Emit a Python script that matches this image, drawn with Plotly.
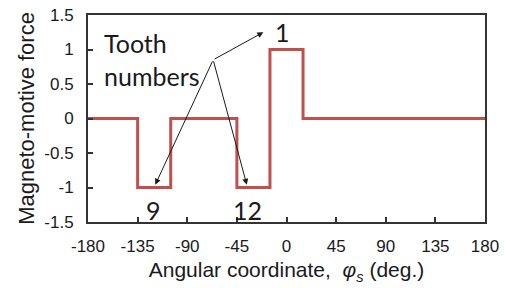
import plotly.graph_objects as go

# Step edges of the MMF waveform (deg) and the level held after each edge
angle_deg = [-180, -135, -105, -45, -15, 15, 180]
mmf = [0, -1, 0, -1, 1, 0, 0]

x_ticks = [-180, -135, -90, -45, 0, 45, 90, 135, 180]
x_tick_text = ["-180", "-135", "-90", "-45", "0", "45", "90", "135", "180"]
y_ticks = [-1.5, -1, -0.5, 0, 0.5, 1, 1.5]
y_tick_text = ["-1.5", "-1", "-0.5", "0", "0.5", "1", "1.5"]

tooth_labels = ["1", "9", "12"]
tooth_label_x = [-4, -121, -35]
tooth_label_y = [1.25, -1.33, -1.33]
arrow_tip_x = [-21, -119, -36]
arrow_tip_y = [1.25, -0.96, -0.96]
arrow_origin = (-66.5, 0.85)

fig = go.Figure()
fig.add_trace(go.Scatter(
    x=angle_deg, y=mmf, mode="lines", line_shape="hv",
    line=dict(color="#C0504D", width=3), showlegend=False, hoverinfo="skip"))

label_font = dict(family="Lato, Open Sans, sans-serif", size=25, color="#1a1a1a")

fig.add_annotation(x=-167.5, y=0.85, xref="x", yref="y", text="Tooth<br>numbers",
                   showarrow=False, xanchor="left", yanchor="middle", align="left",
                   font=label_font)
for t, tx, ty in zip(tooth_labels, tooth_label_x, tooth_label_y):
    fig.add_annotation(x=tx, y=ty, xref="x", yref="y", text=t, showarrow=False,
                       xanchor="center", yanchor="middle", font=label_font)
for ax_, ay_ in zip(arrow_tip_x, arrow_tip_y):
    fig.add_annotation(x=ax_, y=ay_, xref="x", yref="y",
                       ax=arrow_origin[0], ay=arrow_origin[1], axref="x", ayref="y",
                       text="", showarrow=True, arrowhead=2, arrowsize=1.2,
                       arrowwidth=1, arrowcolor="#1a1a1a", standoff=0, startstandoff=0)

axis_common = dict(showline=True, linecolor="#333333", linewidth=2, mirror=True,
                   ticks="inside", ticklen=5, tickwidth=2, tickcolor="#333333",
                   showgrid=False, zeroline=False,
                   tickfont=dict(family="Liberation Sans, Arial, sans-serif", size=17, color="#1a1a1a"))

fig.update_xaxes(range=[-180, 180], tickvals=x_ticks, ticktext=x_tick_text,
                 ticklabelstandoff=8,
                 title=dict(text="Angular coordinate,  <i>φ</i><sub><i>s</i></sub> (deg.)",
                            font=dict(family="Liberation Sans, Arial, sans-serif", size=21, color="#1a1a1a"),
                            standoff=7),
                 **axis_common)
fig.update_yaxes(range=[-1.5, 1.5], tickvals=y_ticks, ticktext=y_tick_text,
                 ticklabelstandoff=9,
                 title=dict(text="Magneto-motive force",
                            font=dict(family="Liberation Sans, Arial, sans-serif", size=22, color="#1a1a1a"),
                            standoff=4),
                 **axis_common)

fig.update_layout(width=505, height=288, margin=dict(l=88, r=20, t=15, b=66, autoexpand=False),
                  plot_bgcolor="white", paper_bgcolor="white")

fig.write_html("out.html", config={"displayModeBar": False},
               post_script="document.body.style.margin='0';")
